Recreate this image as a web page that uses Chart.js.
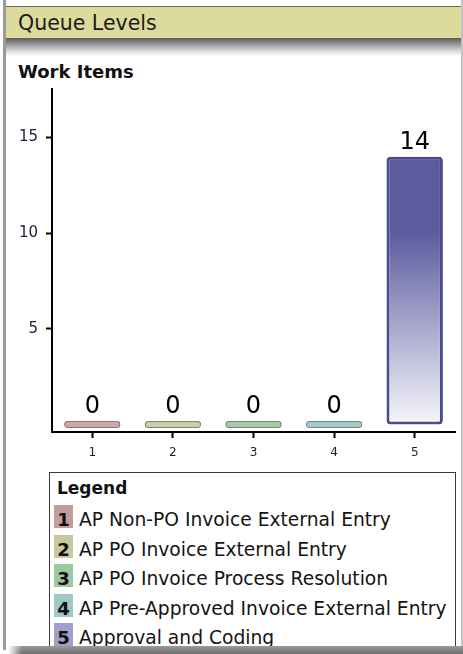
<!DOCTYPE html>
<html>
<head>
<meta charset="utf-8">
<script src="https://cdn.jsdelivr.net/npm/chart.js@4.4.1/dist/chart.umd.min.js"></script>
<style>
  html, body { margin: 0; padding: 0; background: #fff; }
  body { width: 463px; height: 654px; position: relative; overflow: hidden;
         font-family: "DejaVu Sans", Verdana, sans-serif; color: #111; }
  .edge-left  { position: absolute; left: 3px; top: 0; width: 3px; height: 650px; background: #9a9a9a; }
  .edge-right { position: absolute; left: 461px; top: 0; width: 2px; height: 650px; background: #c4c4c4; }
  .header { position: absolute; left: 6px; top: 6px; width: 455px; height: 32px;
            background: #dcdb9d; border-top: 1px solid #6a6a5a; box-sizing: border-box; }
  .header span { position: absolute; left: 12px; top: 5px; font-size: 20.5px; line-height: 22px; color: #1b1b1b; }
  .header-shadow { position: absolute; left: 6px; top: 38px; width: 455px; height: 18px;
                   background: linear-gradient(to bottom, #5a5a5a 0%, #a0a0a0 40%, #e2e2e2 78%, #ffffff 100%); }
  .chart-title { position: absolute; left: 18px; top: 62px; font-size: 18px; line-height: 20px;
                 font-weight: bold; color: #111; }
  #chartWrap { position: absolute; left: 0; top: 80px; width: 463px; height: 380px; }
  .legend { position: absolute; left: 49px; top: 472px; width: 407px; height: 190px;
            border: 1px solid #3a3a3a; box-sizing: border-box; }
  .legend h4 { position: absolute; left: 7px; top: 7px; margin: 0; font-size: 17px; line-height: 17px;
               font-weight: bold; color: #111; }
  .legend .row { position: absolute; left: 4px; height: 23px; width: 400px; }
  .legend .swatch { position: absolute; left: 0; top: 0; width: 19px; height: 23px; }
  .legend .swatch b { position: absolute; left: 0; width: 19px; top: 6px; text-align: center;
                      font-size: 18px; line-height: 18px; color: #111; }
  .legend .name { position: absolute; left: 25px; top: 6px; font-size: 18.7px; line-height: 18px;
                  color: #141414; white-space: nowrap; }
  .bottom-shadow { position: absolute; left: 8px; top: 646px; width: 455px; height: 8px;
                   background: linear-gradient(to bottom, #9a9a9a, #6e6e6e); }
  .bottom-shadow::before { content: ""; position: absolute; left: 0; top: 0; width: 14px; height: 8px;
                           background: linear-gradient(to right, #fff, rgba(255,255,255,0)); }
</style>
</head>
<body>
<div class="edge-left"></div>
<div class="edge-right"></div>
<div class="header"><span>Queue Levels</span></div>
<div class="header-shadow"></div>
<div class="chart-title">Work Items</div>
<div id="chartWrap"><canvas id="queueChart" width="463" height="380"></canvas></div>
<div class="legend" id="legend"><h4>Legend</h4></div>
<div class="bottom-shadow"></div>

<script>
// Queue numbers along the x axis, with the queue names listed in the legend
const QUEUE_NUMBERS = ['1', '2', '3', '4', '5'];
const QUEUE_NAMES = [
  'AP Non-PO Invoice External Entry',
  'AP PO Invoice External Entry',
  'AP PO Invoice Process Resolution',
  'AP Pre-Approved Invoice External Entry',
  'Approval and Coding'
];
// Work items currently waiting in each queue
const WORK_ITEMS = [0, 0, 0, 0, 14];
// Labelled ticks on the value axis
const Y_TICKS = [5, 10, 15];

// Per-queue colours: legend swatch tint, bar body colour, bar edge colour
const SWATCH_COLORS = ['#c49c9c', '#c9c8a0', '#9fc89f', '#9fc8c6', '#9f9fc9'];
const BAR_COLORS    = ['#d2a2a4', '#cfcf9f', '#a2cba2', '#a2cbcb', '#5b5b9e'];
const BAR_EDGES     = ['#857575', '#858575', '#758575', '#758585', '#4a4a8c'];

// Build the numbered legend
const legendEl = document.getElementById('legend');
QUEUE_NAMES.forEach((name, i) => {
  const row = document.createElement('div');
  row.className = 'row';
  row.style.top = (32 + i * 29.6) + 'px';
  const sw = document.createElement('div');
  sw.className = 'swatch';
  sw.style.background = SWATCH_COLORS[i];
  const num = document.createElement('b');
  num.textContent = QUEUE_NUMBERS[i];
  sw.appendChild(num);
  const label = document.createElement('span');
  label.className = 'name';
  label.textContent = name;
  row.appendChild(sw);
  row.appendChild(label);
  legendEl.appendChild(row);
});

// Vertical fade from the bar colour at the top to near-white at the base
function barFill(ctx) {
  const chart = ctx.chart;
  const area = chart.chartArea;
  if (!area) return BAR_COLORS[ctx.dataIndex];
  const v = ctx.raw;
  if (!v) return BAR_COLORS[ctx.dataIndex];
  const y = chart.scales.y;
  const top = y.getPixelForValue(v);
  const base = y.getPixelForValue(0);
  const g = chart.ctx.createLinearGradient(0, top, 0, base);
  const c = BAR_COLORS[ctx.dataIndex];
  g.addColorStop(0, c);
  g.addColorStop(0.28, c);
  g.addColorStop(0.64, '#a9a9cc');
  g.addColorStop(1, '#f6f6fb');
  return g;
}

// Value printed above each bar
const valueLabels = {
  id: 'valueLabels',
  afterDatasetsDraw(chart) {
    const ctx = chart.ctx;
    const meta = chart.getDatasetMeta(0);
    ctx.save();
    ctx.font = '24px "DejaVu Sans", Verdana, sans-serif';
    ctx.fillStyle = '#000';
    ctx.textAlign = 'center';
    ctx.textBaseline = 'alphabetic';
    meta.data.forEach((el, i) => {
      const top = Math.min(el.y, el.base);
      ctx.fillText(String(WORK_ITEMS[i]), el.x, top - 8);
    });
    ctx.restore();
  }
};

new Chart(document.getElementById('queueChart'), {
  type: 'bar',
  data: {
    labels: QUEUE_NUMBERS,
    datasets: [{
      data: WORK_ITEMS,
      backgroundColor: barFill,
      borderColor: (c) => BAR_EDGES[c.dataIndex],
      borderWidth: (c) => (c.raw ? 3 : 1.5),
      borderRadius: (c) => (c.raw ? 4 : 3),
      borderSkipped: false,
      minBarLength: 7,
      barPercentage: 0.7,
      categoryPercentage: 1
    }]
  },
  options: {
    responsive: false,
    devicePixelRatio: 1,
    animation: false,
    layout: { padding: { top: 0, right: 8, left: 0, bottom: 0 } },
    plugins: { legend: { display: false }, tooltip: { enabled: false }, title: { display: false } },
    scales: {
      x: {
        grid: { display: true, drawOnChartArea: false, offset: false, tickLength: 6, tickWidth: 2, tickColor: '#000' },
        border: { display: true, color: '#000', width: 2 },
        ticks: { color: '#1c1c3a', padding: 8, maxRotation: 0,
                 font: { family: '"DejaVu Sans", Verdana, sans-serif', size: 12 } },
        afterFit(scale) { scale.height = 28; }
      },
      y: {
        min: -0.39,
        max: 17.54,
        afterBuildTicks(scale) { scale.ticks = Y_TICKS.map(v => ({ value: v })); },
        grid: { display: true, drawOnChartArea: false, tickLength: 6, tickWidth: 2, tickColor: '#000' },
        border: { display: true, color: '#000', width: 2 },
        ticks: { color: '#1c1c3a', padding: 8,
                 font: { family: '"DejaVu Sans", Verdana, sans-serif', size: 15 } },
        afterFit(scale) { scale.width = 52; scale.paddingTop = 9; }
      }
    }
  },
  plugins: [valueLabels]
});
</script>
</body>
</html>
